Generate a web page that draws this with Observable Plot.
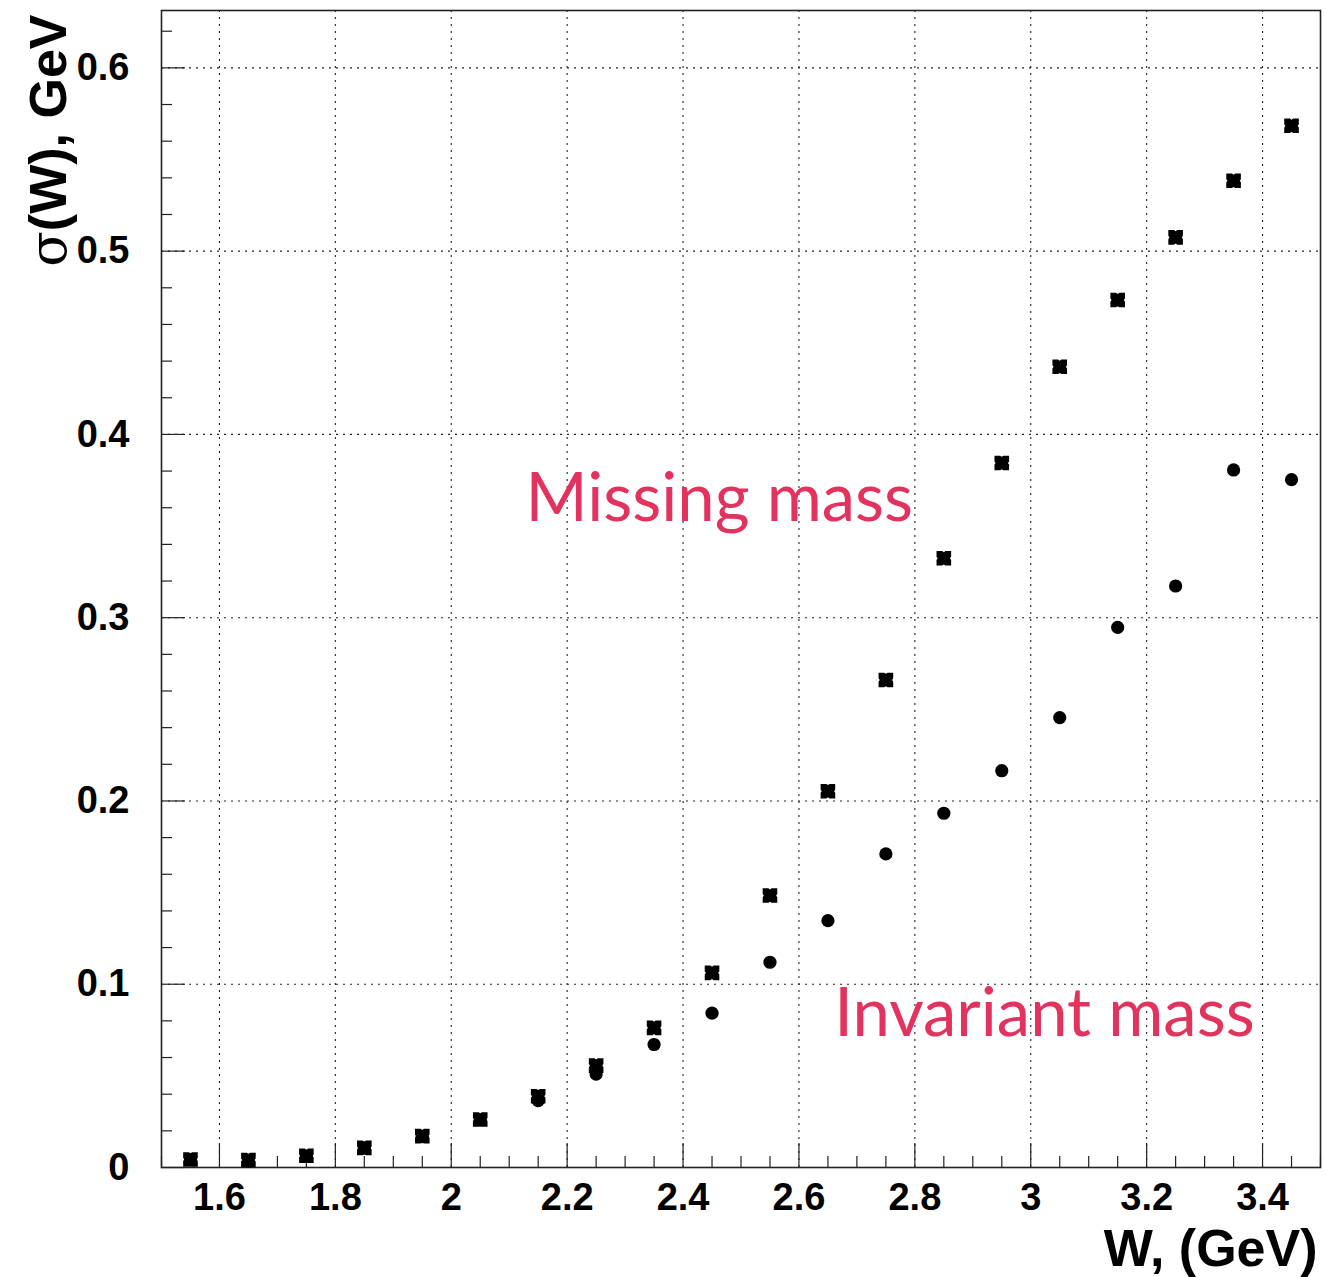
<!DOCTYPE html>
<html><head><meta charset="utf-8">
<script src="https://cdn.jsdelivr.net/npm/d3@7"></script>
<script src="https://cdn.jsdelivr.net/npm/@observablehq/plot@0.6"></script>
<style>html,body{margin:0;padding:0;background:#fff} #chart svg{display:block}</style>
</head><body><div id="chart"></div>
<script>
// ---- data ----
const wValues = [1.55,1.65,1.75,1.85,1.95,2.05,2.15,2.25,2.35,2.45,2.55,2.65,2.75,2.85,2.95,3.05,3.15,3.25,3.35,3.45];
const missingMass = [0.0044,0.0041,0.0064,0.0107,0.0171,0.0262,0.0389,0.0556,0.0762,0.1062,0.1484,0.2053,0.2660,0.3324,0.3844,0.4369,0.4733,0.5075,0.5384,0.5684];
const invariantMass = [0.0041,0.0033,0.0060,0.0106,0.0169,0.0259,0.0365,0.0510,0.0671,0.0842,0.1120,0.1347,0.1711,0.1933,0.2165,0.2455,0.2947,0.3173,0.3806,0.3753];
const xTicks = [1.6,1.8,2,2.2,2.4,2.6,2.8,3,3.2,3.4];
const yTicks = [0,0.1,0.2,0.3,0.4,0.5,0.6];
const xMinorTicks = [1.5,1.55,1.65,1.7,1.75,1.85,1.9,1.95,2.05,2.1,2.15,2.25,2.3,2.35,2.45,2.5,2.55,2.65,2.7,2.75,2.85,2.9,2.95,3.05,3.1,3.15,3.25,3.3,3.35,3.45,3.5];
const yMinorTicks = [0.02,0.04,0.06,0.08,0.12,0.14,0.16,0.18,0.22,0.24,0.26,0.28,0.32,0.34,0.36,0.38,0.42,0.44,0.46,0.48,0.52,0.54,0.56,0.58,0.62];
const seriesLabels = ["Missing mass", "Invariant mass"];
const labelW = [2.128, 2.661];
const labelSigma = [0.3525, 0.072];
const xTitle = "W, (GeV)";
const yTitle = "σ(W), GeV";

// ---- layout ----
const width = 1326, height = 1277;
const mL = 161, mR = 6, mT = 10, mB = 110;
const plotW = width - mL - mR, plotH = height - mT - mB;

const missingData = wValues.map((w, i) => ({w, s: missingMass[i]}));
const invariantData = wValues.map((w, i) => ({w, s: invariantMass[i]}));
const labelData = seriesLabels.map((t, i) => ({t, w: labelW[i], s: labelSigma[i]}));

// ROOT-like filled "X" marker: square with small notches at the edge midpoints
const crossSymbol = {
  draw(context, size) {
    const a = Math.sqrt(size / Math.PI), n = a * 0.22, d = a * 0.16;
    const pts = [
      [-a,-a],[-n,-a],[0,-a+d],[n,-a],
      [a,-a],[a,-n],[a-d,0],[a,n],
      [a,a],[n,a],[0,a-d],[-n,a],
      [-a,a],[-a,n],[-a+d,0],[-a,-n]
    ];
    pts.forEach(([x, y], i) => i ? context.lineTo(x, y) : context.moveTo(x, y));
    context.closePath();
  }
};

const fmt = d => String(Math.round(d * 10) / 10);
const gridStyle = {stroke: "#222", strokeWidth: 1.1, strokeDasharray: "2,5"};

const chart = Plot.plot({
  width, height,
  marginLeft: mL, marginRight: mR, marginTop: mT, marginBottom: mB,
  x: {domain: [1.5, 3.5]},
  y: {domain: [0, 0.6313]},
  style: {fontFamily: "'Liberation Sans', Arial, Helvetica, sans-serif", fontWeight: "bold", background: "#fff", color: "#000"},
  marks: [
    Plot.ruleX(xTicks, {...gridStyle}),
    Plot.ruleY(yTicks.filter(d => d > 0), {...gridStyle}),
    Plot.tickX(xTicks, {x: d => d, insetTop: plotH - 24, stroke: "#222", strokeWidth: 1.2}),
    Plot.tickX(xMinorTicks, {x: d => d, insetTop: plotH - 11, stroke: "#222", strokeWidth: 1.2}),
    Plot.tickY(yTicks, {y: d => d, insetRight: plotW - 24, stroke: "#222", strokeWidth: 1.2}),
    Plot.tickY(yMinorTicks, {y: d => d, insetRight: plotW - 11, stroke: "#222", strokeWidth: 1.2}),
    Plot.frame({stroke: "#222", strokeWidth: 1.6}),
    Plot.axisX(xTicks, {tickSize: 0, tickPadding: 16, fontSize: 38, tickFormat: fmt, label: null}),
    Plot.axisY(yTicks, {tickSize: 0, tickPadding: 32, fontSize: 38, tickFormat: fmt, label: null}),
    Plot.dot(missingData, {x: "w", y: "s", symbol: crossSymbol, r: 7.3, fill: "#000", stroke: "none"}),
    Plot.dot(invariantData, {x: "w", y: "s", symbol: "circle", r: 6.6, fill: "#000", stroke: "none"}),
    Plot.text(labelData, {x: "w", y: "s", text: "t", textAnchor: "start", lineAnchor: "bottom",
      fontSize: 67, fontWeight: "normal", fill: "#e2325e", fontFamily: "'Gill Sans', Lato, 'Open Sans', sans-serif"}),
    Plot.text([xTitle], {text: d => d, frameAnchor: "bottom-right", textAnchor: "end", lineAnchor: "bottom",
      dx: -3, dy: 98, fontSize: 52}),
    Plot.text([yTitle], {text: d => d, frameAnchor: "top-left", rotate: -90, textAnchor: "end", lineAnchor: "bottom",
      dx: -96, dy: 4, fontSize: 52})
  ]
});

// render sigma in a symbol-like serif face
d3.select(chart).selectAll("text").each(function() {
  if (this.textContent === yTitle) {
    const t = d3.select(this);
    t.text(null);
    t.append("tspan").attr("font-family", "'DejaVu Serif', 'Liberation Serif', serif").attr("font-weight", "normal").text("σ");
    t.append("tspan").text("(W), GeV");
  }
});

document.getElementById("chart").append(chart);
</script>
</body></html>
